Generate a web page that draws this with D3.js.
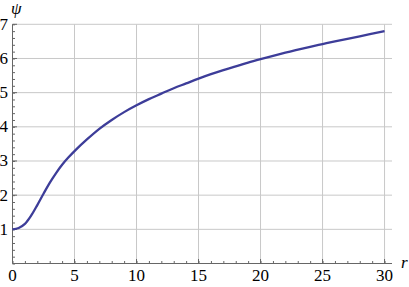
<html>
<script src='https://d3js.org/d3.v7.min.js'></script>
<style>
body {margin:0; background:#fff;}
svg text {font-family: "Liberation Serif", "DejaVu Serif", serif;}
</style>
<body>
<svg width=409 height=287></svg>
<script>
// values
var rVals   = [0, 0.5, 1, 1.5, 2, 2.5, 3, 3.5, 4, 4.5, 5, 6, 7, 8, 9, 10, 11, 12, 13, 14, 15, 16, 17, 18, 19, 20, 22, 24, 25, 26, 28, 30];
var psiVals = [1.00, 1.04, 1.16, 1.40, 1.71, 2.04, 2.36, 2.64, 2.89, 3.10, 3.29, 3.63, 3.94, 4.20, 4.43, 4.63, 4.81, 4.97, 5.13, 5.27, 5.41, 5.54, 5.66, 5.77, 5.88, 5.98, 6.17, 6.34, 6.42, 6.50, 6.65, 6.80];
var xTicks = [0, 5, 10, 15, 20, 25, 30];
var yTicks = [1, 2, 3, 4, 5, 6, 7];

var svg = d3.select("svg");
var x = d3.scaleLinear().domain([0, 30.6]).range([12.5, 392]);
var y = d3.scaleLinear().domain([0, 7]).range([263.5, 24.3]);

var data = rVals.map(function(r, i) { return [r, psiVals[i]]; });

// grid
svg.append("g").selectAll("line").data(xTicks.filter(function(d){return d>0;})).enter().append("line")
  .attr("x1", function(d){return x(d);}).attr("x2", function(d){return x(d);})
  .attr("y1", y(0)).attr("y2", y(7))
  .attr("stroke", "#c8c8c8").attr("stroke-width", 1);
svg.append("g").selectAll("line").data(yTicks).enter().append("line")
  .attr("x1", x(0)).attr("x2", x(30.6))
  .attr("y1", function(d){return y(d);}).attr("y2", function(d){return y(d);})
  .attr("stroke", "#c8c8c8").attr("stroke-width", 1);

// minor ticks from d3 axes
var xAxis = svg.append("g").attr("transform", "translate(0," + y(0) + ")")
  .call(d3.axisTop(x).tickValues(d3.range(0, 31, 1)).tickSize(2.5).tickFormat(""));
var yAxis = svg.append("g").attr("transform", "translate(" + x(0) + ",0)")
  .call(d3.axisRight(y).tickValues(d3.range(0, 7.01, 0.2)).tickSize(2.5).tickFormat(""));
[xAxis, yAxis].forEach(function(a) {
  a.select(".domain").remove();
  a.selectAll(".tick line").attr("stroke", "#666");
});
// axis lines
svg.append("line").attr("x1", x(0)).attr("x2", x(30.6)).attr("y1", y(0)).attr("y2", y(0)).attr("stroke", "#666");
svg.append("line").attr("x1", x(0)).attr("x2", x(0)).attr("y1", y(0)).attr("y2", y(7)).attr("stroke", "#666");
// major ticks
svg.append("g").selectAll("line").data(xTicks).enter().append("line")
  .attr("x1", function(d){return x(d);}).attr("x2", function(d){return x(d);})
  .attr("y1", y(0)).attr("y2", y(0) - 4.5).attr("stroke", "#666");
svg.append("g").selectAll("line").data(yTicks).enter().append("line")
  .attr("x1", x(0)).attr("x2", x(0) + 4.5)
  .attr("y1", function(d){return y(d);}).attr("y2", function(d){return y(d);}).attr("stroke", "#666");

// tick labels
svg.append("g").selectAll("text").data(xTicks).enter().append("text")
  .attr("x", function(d){return x(d);}).attr("y", 280.5)
  .attr("text-anchor", "middle").style("font-size", "17px")
  .text(function(d){return d;});
svg.append("g").selectAll("text").data(yTicks).enter().append("text")
  .attr("x", 8).attr("y", function(d){return y(d) + 5.5;})
  .attr("text-anchor", "end").style("font-size", "17px")
  .text(function(d){return d;});

// axis labels
svg.append("text").attr("x", 11).attr("y", 14).style("font-size", "17px")
  .style("font-style", "italic").text("ψ");
svg.append("text").attr("x", 401).attr("y", 268).style("font-size", "17px")
  .style("font-style", "italic").text("r");

// curve
var line = d3.line().x(function(d){return x(d[0]);}).y(function(d){return y(d[1]);}).curve(d3.curveCatmullRom.alpha(0.5));
svg.append("path").datum(data).attr("d", line)
  .attr("fill", "none").attr("stroke", "#3d3d99").attr("stroke-width", 2.3);
</script>
</body>
</html>
